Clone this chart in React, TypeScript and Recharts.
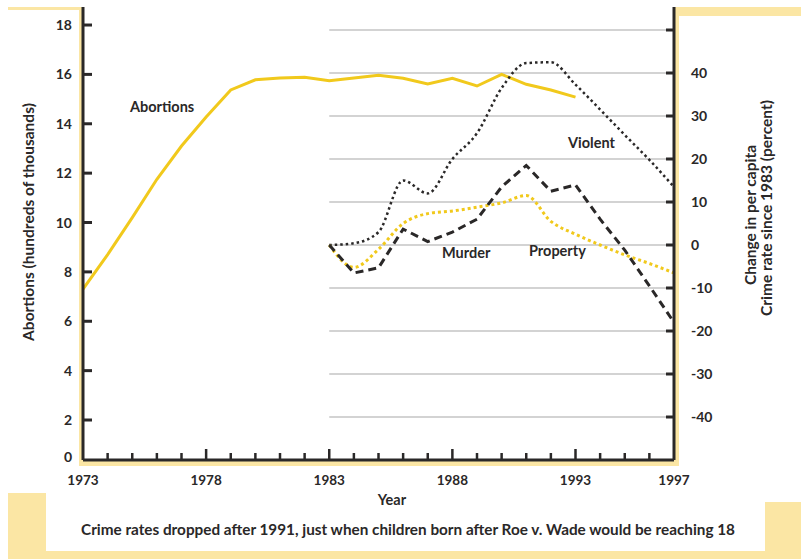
import React from 'react';
import { LineChart, Line, XAxis, YAxis, ReferenceLine } from 'recharts';

// values
const years = [1973, 1974, 1975, 1976, 1977, 1978, 1979, 1980, 1981, 1982, 1983, 1984, 1985, 1986, 1987, 1988, 1989, 1990, 1991, 1992, 1993, 1994, 1995, 1996, 1997];
const abortions = [7.3, 8.7, 10.2, 11.75, 13.1, 14.27, 15.37, 15.78, 15.85, 15.88, 15.74, 15.85, 15.96, 15.84, 15.61, 15.84, 15.53, 16.0, 15.6, 15.37, 15.08, null, null, null, null];
const violent = [null, null, null, null, null, null, null, null, null, null, 0, 0.4, 3, 15, 12, 20, 26, 36.5, 42.3, 42.5, 37.3, 31.5, 25.6, 19.8, 13.5];
const murder = [null, null, null, null, null, null, null, null, null, null, 0, -6.5, -5.3, 3.7, 0.8, 3, 6, 13.5, 18.5, 12.5, 14, 6, -1.2, -9.5, -18];
const property = [null, null, null, null, null, null, null, null, null, null, 0, -5.2, -1, 5, 7.3, 7.9, 8.8, 9.8, 11.5, 5.5, 2.5, 0, -2.3, -4.3, -6.5];

const leftTicks = [0.38, 2, 4, 6, 8, 10, 12, 14, 16, 18];
const rightTicks = [-40, -30, -20, -10, 0, 10, 20, 30, 40, 50];
const gridValues = [-40, -30, -20, -10, 0, 10, 20, 30, 40, 50];
const yearLabels = [1973, 1978, 1983, 1988, 1993, 1997];
const majorYears = [1973, 1978, 1983, 1988, 1993];

const data = years.map((year, i) => ({
  year,
  abortions: abortions[i],
  violent: violent[i],
  murder: murder[i],
  property: property[i],
}));

const INK = '#2a2828';
const YELLOW = '#f1c91c';
const PALE = '#fbe6a4';
const FONT = 'Lato, "Open Sans", sans-serif';

const LeftTick = (props: any) => {
  const { x, y, payload } = props;
  const isZero = payload.value < 1;
  return (
    <g>
      {!isZero && <line x1={x} x2={x + 9} y1={y} y2={y} stroke={INK} strokeWidth={3} />}
      <text x={x - 11} y={isZero ? y - 3 : y} dy="0.36em" textAnchor="end" fontSize={14} fontWeight={700} fill={INK} fontFamily={FONT}>
        {isZero ? 0 : payload.value}
      </text>
    </g>
  );
};

const RightTick = (props: any) => {
  const { x, y, payload } = props;
  return (
    <g>
      <line x1={x - 8} x2={x} y1={y} y2={y} stroke={INK} strokeWidth={3} />
      {payload.value !== 50 && (
        <text x={x + 17} y={y} dy="0.36em" textAnchor="start" fontSize={14} fontWeight={700} fill={INK} fontFamily={FONT}>
          {payload.value}
        </text>
      )}
    </g>
  );
};

const YearTick = (props: any) => {
  const { x, y, payload } = props;
  const v = payload.value;
  const major = majorYears.includes(v);
  return (
    <g>
      {v !== 1973 && v !== 1997 && (
        <line x1={x} x2={x} y1={y} y2={y - (major ? 11 : 7)} stroke={INK} strokeWidth={2.5} />
      )}
      {yearLabels.includes(v) && (
        <text x={x} y={y + 20} dy="0.36em" textAnchor="middle" fontSize={13.5} fontWeight={700} fill={INK} fontFamily={FONT}>
          {v}
        </text>
      )}
    </g>
  );
};

const box = (left: number, top: number, width: number, height: number) => (
  <div style={{ position: 'absolute', left, top, width, height, background: PALE }} />
);

export default function App() {
  return (
    <div style={{ position: 'absolute', left: 0, top: 0, width: 801, height: 559, background: '#fff', overflow: 'hidden' }}>
      {/* yellow frame pieces */}
      {box(8, 7, 75, 3)}
      {box(79, 7, 4, 459)}
      {box(79, 460, 600, 6)}
      {box(674, 7, 5, 459)}
      {box(678, 7, 123, 9)}
      {box(8, 493, 38, 66)}
      {box(765, 502, 36, 57)}
      {box(8, 551, 793, 8)}

      <div style={{ position: 'absolute', left: 0, top: 0 }}>
        <LineChart width={801} height={559} data={data} margin={{ top: 7, right: 67, bottom: 69, left: 23 }}>
          <XAxis
            dataKey="year"
            type="number"
            domain={[1973, 1997]}
            ticks={years}
            interval={0}
            allowDataOverflow
            height={30}
            tickSize={0}
            tickMargin={0}
            tickLine={false}
            axisLine={{ stroke: INK, strokeWidth: 3 }}
            tick={<YearTick />}
          />
          <YAxis
            yAxisId="left"
            domain={[0.38, 18.73]}
            ticks={leftTicks}
            interval={0}
            allowDataOverflow
            width={60}
            tickSize={0}
            tickMargin={0}
            tickLine={false}
            axisLine={{ stroke: INK, strokeWidth: 3 }}
            tick={<LeftTick />}
          />
          <YAxis
            yAxisId="right"
            orientation="right"
            domain={[-50, 55.35]}
            ticks={rightTicks}
            interval={0}
            allowDataOverflow
            width={60}
            tickSize={0}
            tickMargin={0}
            tickLine={false}
            axisLine={{ stroke: INK, strokeWidth: 3 }}
            tick={<RightTick />}
          />
          {gridValues.map((v) => (
            <ReferenceLine
              key={v}
              yAxisId="right"
              segment={[{ x: 1983, y: v }, { x: 1996.9, y: v }]}
              stroke="#c4c4c4"
              strokeWidth={1.5}
            />
          ))}
          <Line yAxisId="left" dataKey="abortions" type="linear" stroke={YELLOW} strokeWidth={3} dot={false} isAnimationActive={false} />
          <Line yAxisId="right" dataKey="violent" type="monotone" stroke={INK} strokeWidth={2.5} strokeDasharray="2.5 3" dot={false} isAnimationActive={false} />
          <Line yAxisId="right" dataKey="property" type="monotone" stroke={YELLOW} strokeWidth={3} strokeDasharray="3 3" dot={false} isAnimationActive={false} />
          <Line yAxisId="right" dataKey="murder" type="linear" stroke={INK} strokeWidth={3} strokeDasharray="8 5" dot={false} isAnimationActive={false} />
        </LineChart>
      </div>

      <svg width={801} height={559} style={{ position: 'absolute', left: 0, top: 0, pointerEvents: 'none' }}>
        <g fontFamily={FONT} fontWeight={700} fill={INK}>
          <text x={130} y={107} dy="0.36em" fontSize={14.5}>Abortions</text>
          <text x={568} y={143} dy="0.36em" fontSize={14.5}>Violent</text>
          <text x={442} y={253} dy="0.36em" fontSize={14.5}>Murder</text>
          <text x={529} y={251} dy="0.36em" fontSize={14.5}>Property</text>
          <text x={392} y={500} dy="0.36em" fontSize={14.5} textAnchor="middle">Year</text>
          <text x={408} y={529} dy="0.36em" fontSize={15.3} textAnchor="middle">
            Crime rates dropped after 1991, just when children born after Roe v. Wade would be reaching 18
          </text>
          <text transform="translate(28,222) rotate(-90)" dy="0.36em" fontSize={15.5} textAnchor="middle">
            Abortions (hundreds of thousands)
          </text>
          <text transform="translate(750,215) rotate(-90)" dy="0.36em" fontSize={15.5} textAnchor="middle">
            Change in per capita
          </text>
          <text transform="translate(766,208) rotate(-90)" dy="0.36em" fontSize={15.5} textAnchor="middle">
            Crime rate since 1983 (percent)
          </text>
        </g>
      </svg>
    </div>
  );
}
